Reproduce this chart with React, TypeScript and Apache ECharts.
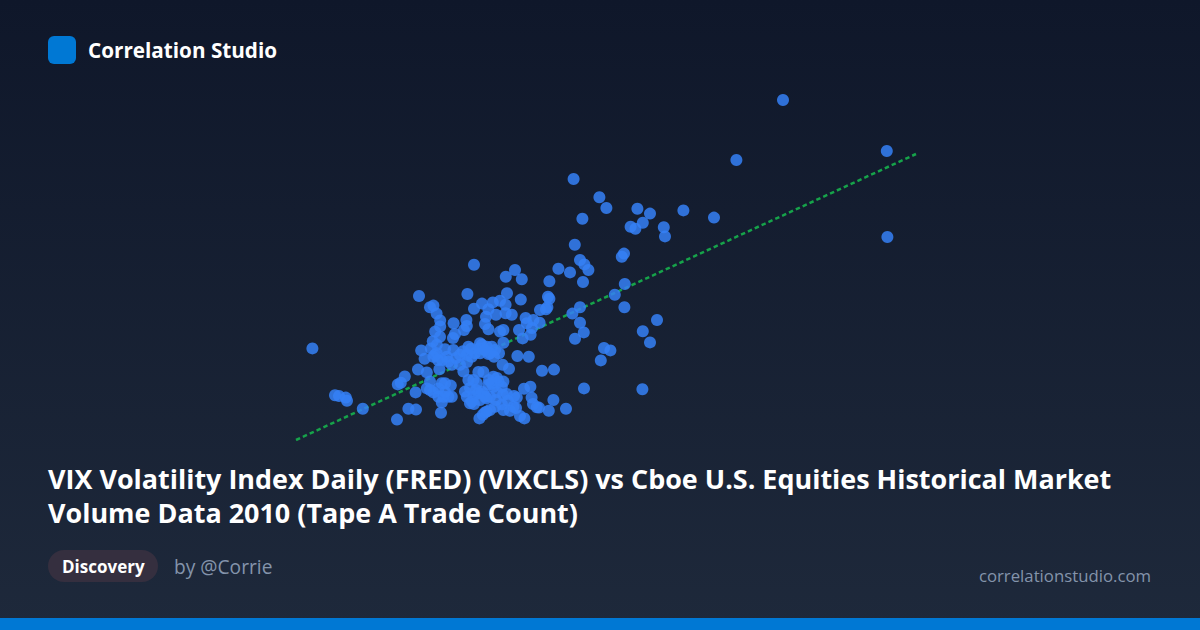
import { useEffect, useRef } from 'react';
import * as echarts from 'echarts';

const FONT = '"Open Sans", sans-serif';

const titleLines = [
  'VIX Volatility Index Daily (FRED) (VIXCLS) vs Cboe U.S. Equities Historical Market',
  'Volume Data 2010 (Tape A Trade Count)',
];

// VIX close, one entry per day
const vix = [
  39.15, 44.34, 36.82, 44.37, 28.68, 29.97, 30.32, 29.12, 31.87, 32.5, 32.14, 31.53, 31.77, 33.19, 33.25, 34.17, 35.7, 28.74, 31.2, 31.09,
  29.0, 29.22, 29.42, 27.92, 28.5, 27.47, 29.15, 25.75, 25.29, 26.09, 23.7, 31.24, 30.74, 31.22, 32.85, 32.14, 32.5, 30.2, 30.52, 30.04,
  29.2, 32.12, 27.7, 27.1, 28.3, 27.44, 27.67, 29.0, 28.62, 29.0, 29.19, 28.75, 27.47, 27.4, 27.3, 27.37, 27.0, 26.04, 25.35, 25.0,
  24.64, 24.1, 23.7, 25.28, 25.28, 25.59, 24.8, 24.42, 24.3, 24.25, 24.42, 25.0, 25.17, 25.17, 26.28, 26.67, 26.98, 26.34, 26.6, 25.95,
  26.53, 26.13, 25.87, 26.44, 25.13, 25.45, 24.17, 23.92, 24.95, 24.42, 24.09, 23.97, 23.75, 24.59, 24.75, 24.34, 24.67, 24.92, 25.17, 24.59,
  24.67, 25.09, 23.84, 23.67, 23.92, 24.17, 24.5, 24.34, 23.67, 23.59, 26.2, 26.52, 26.58, 26.65, 26.84, 26.95, 25.34, 25.7, 25.84, 25.1,
  24.75, 24.5, 24.25, 23.97, 25.17, 25.5, 25.67, 26.0, 26.22, 24.14, 15.62, 16.75, 16.95, 17.29, 17.35, 18.14, 19.85, 20.42, 20.8, 22.05,
  20.78, 19.89, 20.04, 20.24, 20.9, 20.95, 23.37, 21.5, 21.67, 21.83, 22.01, 22.01, 22.68, 23.32, 23.34, 23.2, 22.75, 22.65, 21.76, 22.0,
  21.64, 21.06, 21.23, 21.54, 21.84, 22.25, 22.67, 21.84, 21.75, 22.34, 23.0, 23.42, 24.0, 23.34, 23.59, 24.0, 24.5, 21.67, 22.42, 22.59,
  23.0, 21.34, 21.97, 21.5, 21.34, 21.5, 21.67, 22.09, 22.25, 22.54, 21.92, 22.42, 22.59, 22.17, 21.92, 22.09, 23.42, 23.17, 23.25, 23.34,
  23.5, 24.09, 24.25, 24.42, 24.34,
  22.1, 22.8, 23.15, 23.55, 24.25, 24.7, 23.35, 23.5, 23.8, 24.85, 24.45, 24.85, 25.15, 24.0, 23.7, 24.8, 25.4, 25.8, 22.25, 21.9,
];

// Tape A trade count, millions
const tradeCount = [
  10.5, 9.225, 9.0, 7.075, 8.525, 8.07, 7.8, 7.53, 7.78, 7.66, 7.43, 7.33, 7.28, 7.32, 7.09, 7.74, 7.56, 6.88, 6.66, 6.58,
  6.5, 6.39, 6.25, 6.28, 6.19, 5.97, 5.95, 6.25, 6.08, 6.02, 6.38, 5.9, 5.63, 5.32, 5.0, 4.72, 4.44, 4.3, 4.24, 3.99,
  3.29, 3.27, 3.76, 3.73, 2.78, 2.73, 3.0, 5.32, 5.16, 4.93, 4.69, 4.53, 5.53, 5.58, 5.27, 5.32, 5.25, 5.51, 5.67, 5.48,
  5.44, 5.41, 5.28, 5.38, 5.17, 5.13, 5.13, 5.27, 5.08, 4.9, 4.77, 4.71, 4.75, 4.43, 5.05, 5.0, 4.93, 4.92, 4.8, 4.75,
  4.63, 4.54, 4.1, 4.08, 3.88, 3.78, 3.7, 3.7, 4.17, 4.15, 4.38, 4.29, 4.17, 4.33, 4.25, 4.33, 3.58, 3.46, 3.46, 3.42,
  3.33, 3.33, 3.42, 3.5, 3.17, 3.17, 3.08, 3.04, 3.08, 2.96, 3.28, 3.33, 3.06, 2.9, 2.82, 2.81, 3.15, 3.1, 3.06, 2.89,
  2.83, 2.75, 2.69, 2.54, 2.75, 2.73, 2.83, 2.6, 2.54, 2.63, 4.29, 3.12, 3.1, 3.06, 2.98, 2.78, 2.51, 2.78, 2.76, 2.68,
  3.19, 3.39, 3.43, 3.59, 3.76, 5.6, 5.65, 5.32, 5.36, 5.16, 4.99, 4.84, 4.92, 5.0, 4.85, 4.75, 4.65, 4.55, 4.71, 4.58,
  4.47, 4.24, 4.03, 4.29, 4.38, 4.27, 4.25, 4.17, 4.13, 4.08, 4.13, 4.33, 4.42, 4.13, 4.08, 4.17, 4.17, 4.08, 3.96, 3.88,
  3.88, 3.69, 3.77, 3.46, 3.29, 3.25, 3.19, 3.42, 3.42, 3.36, 3.29, 3.08, 3.08, 3.08, 3.08, 2.94, 3.5, 3.71, 3.21, 3.08,
  2.92, 3.21, 3.08, 3.38, 2.71,
  4.0, 4.05, 4.22, 4.28, 4.25, 4.08, 3.95, 3.3, 3.25, 3.55, 3.5, 3.2, 3.13, 3.0, 2.9, 3.0, 2.98, 2.8, 3.2, 4.0,
];

const trendX = [14.8, 45.8];
const trendY = [2.0, 9.15];

export default function App() {
  const ref = useRef<HTMLDivElement>(null);

  useEffect(() => {
    document.body.style.margin = '0';
    if (!ref.current) return;
    const chart = echarts.init(ref.current, undefined, { renderer: 'svg' });

    chart.setOption({
      animation: false,
      backgroundColor: new echarts.graphic.LinearGradient(0, 0, 0, 1, [
        { offset: 0, color: '#0f172a' },
        { offset: 1, color: '#1e293b' },
      ]),
      grid: { left: 296, width: 620, top: 80, height: 360 },
      xAxis: { type: 'value', show: false, min: 14.8, max: 45.8 },
      yAxis: { type: 'value', show: false, min: 2, max: 11 },
      series: [
        {
          type: 'line',
          data: trendX.map((x, i) => [x, trendY[i]]),
          showSymbol: false,
          silent: true,
          z: 1,
          lineStyle: { color: '#16a34a', width: 2.5, type: [4.5, 3.04], cap: 'butt' },
        },
        {
          type: 'scatter',
          data: vix.map((x, i) => [x, tradeCount[i]]),
          symbolSize: 12,
          silent: true,
          z: 2,
          itemStyle: { color: '#3580f6', opacity: 0.85 },
        },
      ],
      graphic: [
        { type: 'rect', shape: { x: 48, y: 36, width: 28, height: 28, r: 6 }, style: { fill: '#0078d4' } },
        { type: 'text', x: 88, y: 50, style: { text: 'Correlation Studio', fill: '#ffffff', font: `700 20.7px ${FONT}`, textVerticalAlign: 'middle' } },
        { type: 'text', x: 48, y: 478, style: { text: titleLines[0], fill: '#ffffff', font: `700 26.95px ${FONT}`, textVerticalAlign: 'middle' } },
        { type: 'text', x: 48, y: 512, style: { text: titleLines[1], fill: '#ffffff', font: `700 26.95px ${FONT}`, textVerticalAlign: 'middle' } },
        { type: 'rect', shape: { x: 48, y: 550, width: 110, height: 32, r: 16 }, style: { fill: '#352f3f' } },
        { type: 'text', x: 62, y: 566, style: { text: 'Discovery', fill: '#ffffff', font: `700 17px ${FONT}`, textVerticalAlign: 'middle' } },
        { type: 'text', x: 174, y: 566, style: { text: 'by @Corrie', fill: '#8494ab', font: `400 19.2px ${FONT}`, textVerticalAlign: 'middle' } },
        { type: 'text', x: 1151, y: 575, style: { text: 'correlationstudio.com', fill: '#8494ab', font: `400 16.75px ${FONT}`, textAlign: 'right', textVerticalAlign: 'middle' } },
        { type: 'rect', shape: { x: 0, y: 618, width: 1200, height: 12 }, style: { fill: '#0078d4' } },
      ],
    });

    return () => chart.dispose();
  }, []);

  return <div ref={ref} style={{ width: 1200, height: 630 }} />;
}
